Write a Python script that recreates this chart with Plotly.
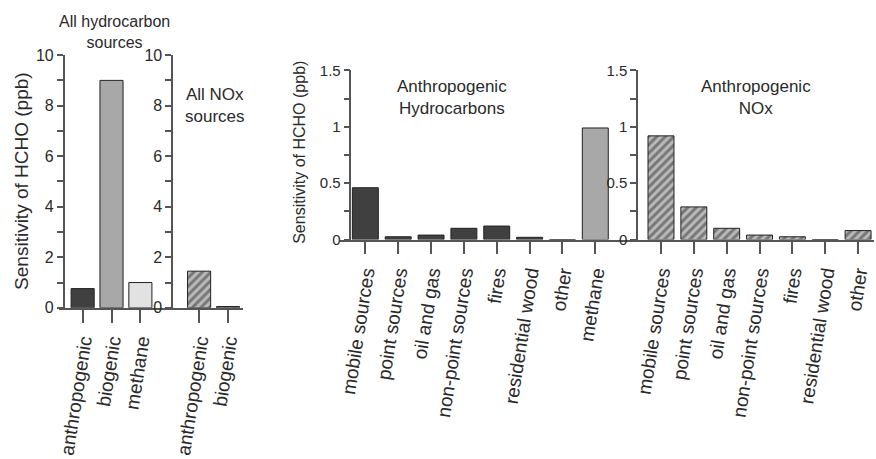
import plotly.graph_objects as go

# ---------------- data ----------------
all_hc_cats = ["anthropogenic", "biogenic", "methane"]
all_hc_vals = [0.76, 9.0, 1.0]

all_nox_cats = ["anthropogenic", "biogenic"]
all_nox_vals = [1.45, 0.05]

sector_cats = ["mobile sources", "point sources", "oil and gas",
               "non-point sources", "fires", "residential wood", "other"]
anth_hc_vals = [0.46, 0.025, 0.04, 0.10, 0.12, 0.02, 0.0]
methane_cat = "methane"
methane_val = 0.99
anth_nox_vals = [0.92, 0.29, 0.10, 0.04, 0.025, 0.0, 0.08]

# ---------------- style ----------------
W, H = 876, 459
FONT = "Arial, Liberation Sans, sans-serif"
TXT = "#2a2a2a"
AX = "#555555"
DARK = "#404040"
MID = "#a8a8a8"
LIGHT = "#e2e2e2"
HATCH = dict(shape="/", fgcolor="#333333", bgcolor="#bababa", size=6, solidity=0.5)

def fx(p):
    return p / W

def fy(p):
    return 1 - p / H

fig = go.Figure()

fig.add_trace(go.Bar(x=all_hc_cats, y=all_hc_vals, xaxis="x", yaxis="y",
                     marker=dict(color=[DARK, MID, LIGHT], line=dict(color="#222", width=1)),
                     width=0.8, showlegend=False))
fig.add_trace(go.Bar(x=all_nox_cats, y=all_nox_vals, xaxis="x2", yaxis="y2",
                     marker=dict(color="#bababa", pattern=HATCH, line=dict(color="#222", width=1)),
                     width=0.8, showlegend=False))
hc_cats = sector_cats + [methane_cat]
hc_vals = anth_hc_vals + [methane_val]
fig.add_trace(go.Bar(x=hc_cats, y=hc_vals, xaxis="x3", yaxis="y3",
                     marker=dict(color=[DARK] * len(sector_cats) + [MID],
                                 line=dict(color="#222", width=1)),
                     width=0.79, showlegend=False))
fig.add_trace(go.Bar(x=sector_cats, y=anth_nox_vals, xaxis="x4", yaxis="y4",
                     marker=dict(color="#bababa", pattern=HATCH, line=dict(color="#222", width=1)),
                     width=0.79, showlegend=False))

xcommon = dict(type="category", showline=True, linecolor=AX, linewidth=1.5,
               ticks="outside", ticklen=13, tickcolor=AX, tickwidth=1.5,
               tickangle=-81, tickfont=dict(family=FONT, size=19, color=TXT),
               ticklabelstandoff=0,
               showgrid=False, zeroline=False, fixedrange=True)
ycommon = dict(showline=True, linecolor=AX, linewidth=1.5, ticks="outside",
               ticklen=6, tickcolor=AX, tickwidth=1.5, showgrid=False,
               zeroline=False, fixedrange=True)

left_vals = list(range(0, 11))
left_text = [str(v) if v % 2 == 0 else "" for v in left_vals]
right_vals = [0, 0.25, 0.5, 0.75, 1.0, 1.25, 1.5]
right_text = ["0", "", "0.5", "", "1", "", "1.5"]

fig.update_layout(
    width=W, height=H, autosize=False,
    margin=dict(l=0, r=0, t=0, b=0),
    paper_bgcolor="white", plot_bgcolor="rgba(0,0,0,0)",
    font=dict(family=FONT, color=TXT),
    xaxis=dict(xcommon, domain=[fx(55), fx(170)], range=[(55 - 79) / 29, (170 - 79) / 29],
               anchor="y", categoryorder="array", categoryarray=all_hc_cats),
    yaxis=dict(ycommon, domain=[fy(311), fy(48)], range=[0, 10], anchor="free",
               position=fx(60), tickvals=left_vals, ticktext=left_text,
               tickfont=dict(family=FONT, size=16, color=TXT)),
    xaxis2=dict(xcommon, domain=[fx(170), fx(240)], range=[(170 - 196) / 29, (240 - 196) / 29],
                anchor="y2", categoryorder="array", categoryarray=all_nox_cats),
    yaxis2=dict(ycommon, domain=[fy(311), fy(48)], range=[0, 10], anchor="x2",
                tickvals=left_vals, ticktext=left_text,
                tickfont=dict(family=FONT, size=16, color=TXT)),
    xaxis3=dict(xcommon, domain=[fx(338), fx(637)], range=[(338 - 363) / 33, (637 - 363) / 33],
                anchor="y3", categoryorder="array", categoryarray=hc_cats),
    yaxis3=dict(ycommon, domain=[fy(240), fy(64)], range=[0, 1.5], anchor="free",
                position=fx(348), tickvals=right_vals, ticktext=right_text,
                tickfont=dict(family=FONT, size=15, color=TXT)),
    xaxis4=dict(xcommon, domain=[fx(637), fx(874)], range=[(637 - 660) / 33, (874 - 660) / 33],
                anchor="y4", categoryorder="array", categoryarray=sector_cats),
    yaxis4=dict(ycommon, domain=[fy(240), fy(64)], range=[0, 1.5], anchor="x4",
                tickvals=right_vals, ticktext=right_text,
                tickfont=dict(family=FONT, size=15, color=TXT)),
)

annos = [
    dict(text="All hydrocarbon<br>sources", x=fx(111), y=fy(24), size=16),
    dict(text="All NOx<br>sources", x=fx(212), y=fy(100), size=17),
    dict(text="Anthropogenic<br>Hydrocarbons", x=fx(450), y=fy(92), size=17),
    dict(text="Anthropogenic<br>NOx", x=fx(755), y=fy(92), size=17),
]
for a in annos:
    fig.add_annotation(text=a["text"], x=a["x"], y=a["y"], xref="paper", yref="paper",
                       showarrow=False, xanchor="center", yanchor="middle",
                       font=dict(family=FONT, size=a["size"], color=TXT))

fig.add_annotation(text="Sensitivity of HCHO (ppb)", x=fx(18), y=fy(179), xref="paper",
                   yref="paper", showarrow=False, textangle=-90,
                   xanchor="center", yanchor="middle",
                   font=dict(family=FONT, size=19, color=TXT))
fig.add_annotation(text="Sensitivity of HCHO (ppb)", x=fx(297), y=fy(149), xref="paper",
                   yref="paper", showarrow=False, textangle=-90,
                   xanchor="center", yanchor="middle",
                   font=dict(family=FONT, size=16, color=TXT))

fig.write_html("out.html")
